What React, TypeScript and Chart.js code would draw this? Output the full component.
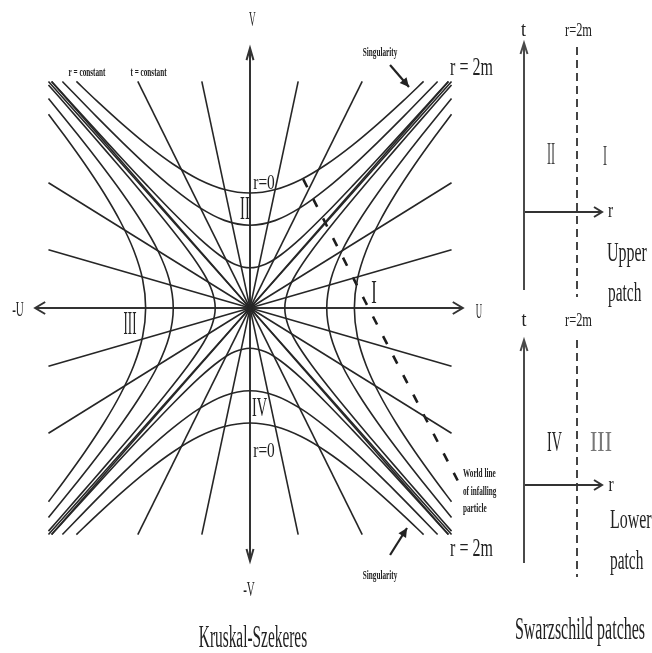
import React, { useEffect, useRef } from "react";
import { Chart, registerables } from "chart.js";

Chart.register(...registerables);

// ---------- Kruskal-Szekeres plane: values (u, v) ----------
// r = constant curves inside the horizon (regions II / IV), right half of each branch
const rZeroCurve = [[0, 1.0], [0.25, 1.031], [0.5, 1.118], [0.75, 1.25], [1.0, 1.414], [1.25, 1.601], [1.5, 1.803], [1.697, 1.97]];
const rInnerCurveA = [[0, 0.72], [0.25, 0.762], [0.5, 0.877], [0.75, 1.04], [1.0, 1.232], [1.25, 1.443], [1.5, 1.664], [1.834, 1.97]];
const rInnerCurveB = [[0, 0.35], [0.15, 0.381], [0.3, 0.461], [0.5, 0.61], [0.75, 0.828], [1.0, 1.06], [1.25, 1.298], [1.5, 1.54], [1.75, 1.785], [1.939, 1.97]];
// r = constant curves outside the horizon (regions I / III), upper half of each branch
const rOuterCurveA = [[0.34, 0], [0.372, 0.15], [0.453, 0.3], [0.605, 0.5], [0.824, 0.75], [1.056, 1.0], [1.295, 1.25], [1.538, 1.5], [1.783, 1.75], [1.97, 1.94]];
const rOuterCurveB = [[0.75, 0], [0.791, 0.25], [0.901, 0.5], [1.061, 0.75], [1.25, 1.0], [1.458, 1.25], [1.677, 1.5], [1.97, 1.822]];
const rOuterCurveC = [[1.02, 0], [1.05, 0.25], [1.136, 0.5], [1.266, 0.75], [1.428, 1.0], [1.613, 1.25], [1.814, 1.5], [1.97, 1.685]];
// t = constant lines through the origin: end points in the upper-right quadrant
const tLinesRegionII = [[0.471, 1.97], [1.097, 1.97]];
const tLinesRegionI = [[1.97, 0.506], [1.97, 1.089]];
const horizonLines = [[1.97, 1.97], [1.94, 1.97]];
// world line of the infalling particle
const worldLine = [[0.52, 1.12], [1.13, 0.05], [2.03, -1.5]];
// axes and pointer arrows
const uAxis = [[-2.1, 0], [2.08, 0]];
const vAxis = [[0, -2.2], [0, 2.26]];
const singularityArrowTop = [[1.369, 2.113], [1.554, 1.922]];
const singularityArrowBottom = [[1.369, -2.148], [1.535, -1.913]];

// ---------- Schwarzschild patches (r, t) ----------
const patchTAxisUpper = [[0, -0.78], [0, 1.69]];
const patchTAxisLower = [[0, -0.78], [0, 1.45]];
const patchRAxis = [[0, 0], [0.78, 0]];
const patchHorizonUpper = [[0.53, 1.65], [0.53, -0.85]];
const patchHorizonLower = [[0.53, 1.45], [0.53, -0.92]];

const FONT = '"Liberation Serif", "Times New Roman", serif';
const INK = "#262626";

type Lbl = { text: string; x: number; y: number; xa: string; ya: string; size: number; sx: number; bold?: boolean; align?: string; color?: string };

const LABELS: Lbl[] = [
  { text: "V", x: 0.024, y: 2.5, xa: "xk", ya: "yk", size: 22, sx: 0.42 },
  { text: "-V", x: -0.01, y: -2.452, xa: "xk", ya: "yk", size: 22, sx: 0.5 },
  { text: "-U", x: -2.268, y: -0.017, xa: "xk", ya: "yk", size: 22, sx: 0.5 },
  { text: "U", x: 2.239, y: -0.035, xa: "xk", ya: "yk", size: 22, sx: 0.4 },
  { text: "r = constant", x: -1.593, y: 2.048, xa: "xk", ya: "yk", size: 12, sx: 0.6, bold: true },
  { text: "t = constant", x: -0.992, y: 2.048, xa: "xk", ya: "yk", size: 12, sx: 0.6, bold: true },
  { text: "Singularity", x: 1.271, y: 2.217, xa: "xk", ya: "yk", size: 12, sx: 0.6, bold: true },
  { text: "r = 2m", x: 2.165, y: 2.083, xa: "xk", ya: "yk", size: 25, sx: 0.64 },
  { text: "r=0", x: 0.137, y: 1.083, xa: "xk", ya: "yk", size: 22, sx: 0.7 },
  { text: "II", x: -0.049, y: 0.852, xa: "xk", ya: "yk", size: 34, sx: 0.43 },
  { text: "III", x: -1.173, y: -0.148, xa: "xk", ya: "yk", size: 34, sx: 0.38 },
  { text: "I", x: 1.212, y: 0.122, xa: "xk", ya: "yk", size: 33, sx: 0.5 },
  { text: "IV", x: 0.093, y: -0.878, xa: "xk", ya: "yk", size: 27, sx: 0.53 },
  { text: "r=0", x: 0.137, y: -1.243, xa: "xk", ya: "yk", size: 22, sx: 0.7 },
  { text: "World line", x: 2.082, y: -1.443, xa: "xk", ya: "yk", size: 12, sx: 0.6, bold: true, align: "left" },
  { text: "of infalling", x: 2.082, y: -1.6, xa: "xk", ya: "yk", size: 12, sx: 0.6, bold: true, align: "left" },
  { text: "particle", x: 2.082, y: -1.748, xa: "xk", ya: "yk", size: 12, sx: 0.6, bold: true, align: "left" },
  { text: "r = 2m", x: 2.165, y: -2.1, xa: "xk", ya: "yk", size: 25, sx: 0.64 },
  { text: "Singularity", x: 1.271, y: -2.33, xa: "xk", ya: "yk", size: 12, sx: 0.6, bold: true },
  { text: "Kruskal-Szekeres", x: 0.029, y: -2.874, xa: "xk", ya: "yk", size: 32, sx: 0.48 },

  { text: "t", x: -0.005, y: 1.81, xa: "xp", ya: "ypU", size: 20, sx: 0.9 },
  { text: "r=2m", x: 0.545, y: 1.81, xa: "xp", ya: "ypU", size: 18, sx: 0.69 },
  { text: "II", x: 0.27, y: 0.56, xa: "xp", ya: "ypU", size: 32, sx: 0.38, color: "#444" },
  { text: "I", x: 0.81, y: 0.55, xa: "xp", ya: "ypU", size: 30, sx: 0.4, color: "#444" },
  { text: "r", x: 0.865, y: 0.01, xa: "xp", ya: "ypU", size: 22, sx: 0.7 },
  { text: "Upper", x: 0.83, y: -0.42, xa: "xp", ya: "ypU", size: 28, sx: 0.57, align: "left" },
  { text: "patch", x: 0.84, y: -0.82, xa: "xp", ya: "ypU", size: 28, sx: 0.55, align: "left" },

  { text: "t", x: 0, y: 1.64, xa: "xp", ya: "ypL", size: 20, sx: 0.9 },
  { text: "r=2m", x: 0.545, y: 1.64, xa: "xp", ya: "ypL", size: 18, sx: 0.69 },
  { text: "IV", x: 0.305, y: 0.42, xa: "xp", ya: "ypL", size: 30, sx: 0.47 },
  { text: "III", x: 0.77, y: 0.42, xa: "xp", ya: "ypL", size: 30, sx: 0.73, color: "#777" },
  { text: "r", x: 0.87, y: 0.0, xa: "xp", ya: "ypL", size: 22, sx: 0.7 },
  { text: "Lower", x: 0.86, y: -0.36, xa: "xp", ya: "ypL", size: 28, sx: 0.57, align: "left" },
  { text: "patch", x: 0.86, y: -0.77, xa: "xp", ya: "ypL", size: 28, sx: 0.55, align: "left" },
  { text: "Swarzschild patches", x: 0.56, y: -1.46, xa: "xp", ya: "ypL", size: 32, sx: 0.5 },
];

type Pt = number[];
const toXY = (pts: Pt[]) => pts.map(([x, y]) => ({ x, y }));

function ds(points: Pt[], opts: any = {}) {
  return {
    data: toXY(points),
    showLine: true,
    pointRadius: 0,
    pointHoverRadius: 0,
    borderColor: INK,
    borderWidth: 1.6,
    tension: 0,
    fill: false,
    xAxisID: "xk",
    yAxisID: "yk",
    ...opts,
  };
}

// full branch from a half branch
const horizBranch = (half: Pt[], sv: number) =>
  [...half.slice(1).reverse().map(([u, v]) => [-u, sv * v]), ...half.map(([u, v]) => [u, sv * v])];
const vertBranch = (half: Pt[], su: number) =>
  [...half.slice(1).reverse().map(([u, v]) => [su * u, -v]), ...half.map(([u, v]) => [su * u, v])];

const arrowPlugin = {
  id: "arrowheads",
  afterDatasetsDraw(chart: any) {
    const ctx = chart.ctx;
    chart.data.datasets.forEach((d: any, i: number) => {
      if (!d.arrows) return;
      const pts = chart.getDatasetMeta(i).data;
      if (!pts || pts.length < 2) return;
      for (const a of d.arrows) {
        const tip = a.at === "start" ? pts[0] : pts[pts.length - 1];
        const prev = a.at === "start" ? pts[1] : pts[pts.length - 2];
        const ang = Math.atan2(tip.y - prev.y, tip.x - prev.x);
        ctx.save();
        ctx.translate(tip.x, tip.y);
        ctx.rotate(ang);
        ctx.strokeStyle = d.borderColor;
        ctx.fillStyle = d.borderColor;
        ctx.lineWidth = a.lw || 2;
        ctx.lineJoin = "miter";
        ctx.beginPath();
        ctx.moveTo(-a.len, -a.half);
        ctx.lineTo(0, 0);
        ctx.lineTo(-a.len, a.half);
        if (a.filled) {
          ctx.closePath();
          ctx.fill();
        } else {
          ctx.stroke();
        }
        ctx.restore();
      }
    });
  },
};

const textPlugin = {
  id: "texts",
  afterDatasetsDraw(chart: any) {
    const ctx = chart.ctx;
    for (const l of LABELS) {
      const px = chart.scales[l.xa].getPixelForValue(l.x);
      const py = chart.scales[l.ya].getPixelForValue(l.y);
      ctx.save();
      ctx.translate(px, py);
      ctx.scale(l.sx, 1);
      ctx.font = `${l.bold ? "bold " : ""}${l.size}px ${FONT}`;
      ctx.fillStyle = l.color || "#222";
      ctx.textAlign = l.align || "center";
      ctx.textBaseline = "middle";
      ctx.fillText(l.text, 0, 0);
      ctx.restore();
    }
  },
};

const bgPlugin = {
  id: "bg",
  beforeDraw(chart: any) {
    const ctx = chart.ctx;
    ctx.save();
    ctx.fillStyle = "#ffffff";
    ctx.fillRect(0, 0, chart.width, chart.height);
    ctx.restore();
  },
};

export default function App() {
  const ref = useRef<HTMLCanvasElement | null>(null);

  useEffect(() => {
    document.body.style.margin = "0";
    document.documentElement.style.overflow = "hidden";
    const canvas = ref.current;
    if (!canvas) return;

    const datasets: any[] = [];
    // r = constant hyperbolas
    for (const half of [rZeroCurve, rInnerCurveA, rInnerCurveB]) {
      datasets.push(ds(horizBranch(half, 1), { tension: 0.3 }));
      datasets.push(ds(horizBranch(half, -1), { tension: 0.3 }));
    }
    for (const half of [rOuterCurveA, rOuterCurveB, rOuterCurveC]) {
      datasets.push(ds(vertBranch(half, 1), { tension: 0.3 }));
      datasets.push(ds(vertBranch(half, -1), { tension: 0.3 }));
    }
    // t = constant lines and the horizon
    for (const [u, v] of [...tLinesRegionII, ...tLinesRegionI, ...horizonLines]) {
      datasets.push(ds([[-u, -v], [u, v]]));
      datasets.push(ds([[-u, v], [u, -v]]));
    }
    // world line
    datasets.push(ds(worldLine, { borderDash: [9, 13], borderWidth: 2.6, borderColor: "#1c1c1c" }));
    // axes
    datasets.push(ds(uAxis, { borderWidth: 2, borderColor: "#333", arrows: [{ at: "start", len: 10, half: 6 }, { at: "end", len: 10, half: 6 }] }));
    datasets.push(ds(vAxis, { borderWidth: 2, borderColor: "#333", arrows: [{ at: "start", len: 12, half: 3.5 }, { at: "end", len: 12, half: 3.5 }] }));
    datasets.push(ds(singularityArrowTop, { borderWidth: 2.2, borderColor: "#222", arrows: [{ at: "end", len: 9, half: 4.5, filled: true }] }));
    datasets.push(ds(singularityArrowBottom, { borderWidth: 2.2, borderColor: "#222", arrows: [{ at: "end", len: 9, half: 4.5, filled: true }] }));

    // patches
    const pGrey = "#4a4a4a";
    datasets.push(ds(patchTAxisUpper, { xAxisID: "xp", yAxisID: "ypU", borderWidth: 2, borderColor: pGrey, arrows: [{ at: "end", len: 11, half: 3.5 }] }));
    datasets.push(ds(patchRAxis, { xAxisID: "xp", yAxisID: "ypU", borderWidth: 2, borderColor: "#333", arrows: [{ at: "end", len: 8, half: 5 }] }));
    datasets.push(ds(patchHorizonUpper, { xAxisID: "xp", yAxisID: "ypU", borderWidth: 2, borderColor: "#444", borderDash: [8, 5] }));
    datasets.push(ds(patchTAxisLower, { xAxisID: "xp", yAxisID: "ypL", borderWidth: 2, borderColor: pGrey, arrows: [{ at: "end", len: 11, half: 3.5 }] }));
    datasets.push(ds(patchRAxis, { xAxisID: "xp", yAxisID: "ypL", borderWidth: 2, borderColor: "#333", arrows: [{ at: "end", len: 8, half: 5 }] }));
    datasets.push(ds(patchHorizonLower, { xAxisID: "xp", yAxisID: "ypL", borderWidth: 2, borderColor: "#444", borderDash: [8, 5] }));

    const hidden = { display: false, type: "linear" as const };
    const chart = new Chart(canvas, {
      type: "scatter",
      data: { datasets },
      options: {
        responsive: false,
        animation: false,
        devicePixelRatio: 1,
        layout: { padding: 0 },
        events: [],
        plugins: { legend: { display: false }, tooltip: { enabled: false }, title: { display: false } },
        scales: {
          xk: { ...hidden, axis: "x", position: "bottom", min: -2.4438, max: 3.9296 },
          yk: { ...hidden, axis: "y", position: "left", min: -3.0, max: 2.6783 },
          xp: { ...hidden, axis: "x", position: "bottom", min: -5.24, max: 1.28 },
          ypU: { ...hidden, axis: "y", position: "left", min: -4.41, max: 2.12 },
          ypL: { ...hidden, axis: "y", position: "left", min: -1.68, max: 4.85 },
        },
      } as any,
      plugins: [bgPlugin, arrowPlugin, textPlugin],
    });
    return () => chart.destroy();
  }, []);

  return <canvas ref={ref} width={652} height={653} style={{ display: "block", width: 652, height: 653 }} />;
}
